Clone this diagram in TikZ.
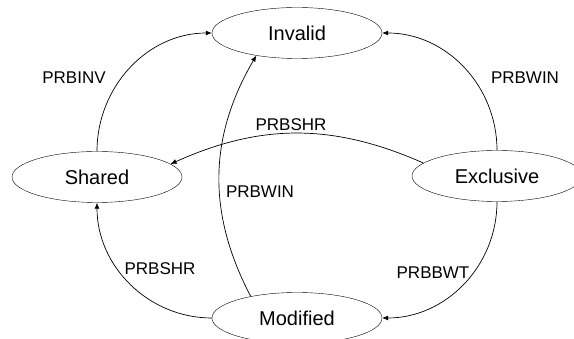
\documentclass[tikz,border=0pt]{standalone}
\usepackage{fontspec}
\setmainfont{Liberation Sans}
\usetikzlibrary{shapes.geometric,arrows.meta}
\begin{document}
\begin{tikzpicture}[x=1pt,y=1pt,
    state/.style={shape=ellipse,draw,minimum width=170pt,minimum height=51pt,inner sep=0pt,font=\fontsize{20}{24}\selectfont},
    trans/.style={-{Latex[length=6pt,width=5pt]},line width=0.7pt},
    lbl/.style={font=\fontsize{17}{20}\selectfont,inner sep=0pt}]
    \useasboundingbox (0,0) rectangle (574,339);
    % states
    \node[state] (inv) at (297,306) {Invalid};
    \node[state] (shr) at (97,162) {Shared};
    \node[state] (exc) at (497,163) {Exclusive};
    \node[state] (mod) at (297,21) {Modified};
    % transitions
    \draw[trans] (shr.north) to[out=90,in=180] (inv.west);
    \draw[trans] (exc.north) to[out=90,in=0] (inv.east);
    \draw[trans] (exc.170) to[bend right=24] (shr.10);
    \draw[trans] (mod.155) to[bend left=29] (inv.209);
    \draw[trans] (mod.west) to[out=180,in=270] (shr.south);
    \draw[trans] (exc.south) to[out=270,in=0] (mod.east);
    % labels
    \node[lbl] (linv) at (74,261) {PRBINV};
    \node[lbl] (lwin) at (525,261) {PRBWIN};
    \node[lbl] (lshr) at (291,214) {PRBSHR};
    \node[lbl] (lwinm) at (260,147) {PRBWIN};
    \node[lbl] (lshrm) at (160,70) {PRBSHR};
    \node[lbl] (lbwt) at (433,66) {PRBBWT};
\end{tikzpicture}
\end{document}
